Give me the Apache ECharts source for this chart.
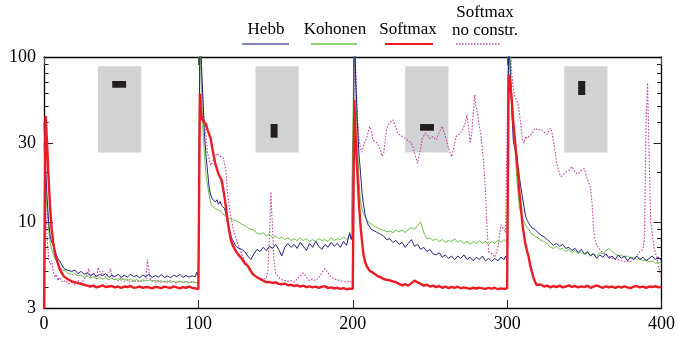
<!DOCTYPE html>
<html>
<head>
<meta charset="utf-8">
<script src="https://cdn.jsdelivr.net/npm/echarts@6/dist/echarts.min.js"></script>
<style>html,body{margin:0;padding:0;background:#fff}#c{width:678px;height:339px}</style>
</head>
<body>
<div id="c"></div>
<script>
// x-axis ticks and y-axis labels
const xTicks = [0, 100, 200, 300, 400];
const yLabels = [3, 10, 30, 100];
const yMinor = [4, 5, 6, 7, 8, 9, 20, 40, 50, 60, 70, 80, 90];
const seriesNames = ['Hebb', 'Kohonen', 'Softmax', 'Softmax no constr.'];

// values as flat x,y lists
const hebb = [
0,40, 1,22, 2,14, 3,10, 4,8.2, 5,7.5, 6,7.2, 7,6.8, 8,6.3, 9,6.0, 10,5.8, 11,5.6, 12,5.5, 13,5.2, 14,5.3, 15,5.1, 16,5.2, 18,5.0, 20,5.1, 22,4.85, 24,5.0, 26,4.8, 28,4.9, 30,4.7, 32,4.85, 34,4.65, 36,4.8, 38,4.7, 40,4.85, 42,4.6, 44,4.75, 46,4.65, 48,4.8, 50,4.6, 52,4.75, 54,4.62, 56,4.8, 58,4.65, 60,4.72, 62,4.58, 64,4.75, 66,4.65, 68,4.8, 70,4.6, 72,4.72, 74,4.62, 76,4.78, 78,4.6, 80,4.7, 82,4.58, 84,4.75, 86,4.65, 88,4.8, 90,4.6, 92,4.72, 94,4.62, 96,4.7, 98,4.65, 99,4.95, 100,4.7,
101,150, 102,90, 103,55, 104,33, 105,25, 106,20, 107,16, 108,14.5, 109,13.8, 110,13.5, 111,13.2, 112,13.6, 113,12.8, 114,13.3, 115,12.6, 116,12.4, 117,12.0, 118,11.0, 119,9.8, 120,9.0, 121,8.3, 122,7.8, 123,7.5, 124,7.2, 125,7.0, 126,7.1, 128,6.8, 130,6.6, 132,6.2, 134,5.9, 136,6.4, 138,6.8, 140,6.6, 142,7.0, 144,6.7, 146,7.1, 148,6.9, 150,7.3, 152,6.8, 154,6.2, 156,7.0, 158,7.4, 160,7.0, 162,7.3, 164,6.9, 166,7.5, 168,7.1, 170,6.7, 172,7.4, 174,7.0, 176,7.6, 178,7.1, 180,6.8, 182,7.3, 184,7.0, 186,7.5, 188,7.1, 190,7.4, 192,7.0, 194,7.6, 196,7.2, 198,8.6, 199,7.8, 200,8.5,
201,150, 202,70, 203,40, 204,26, 205,20, 206,15, 207,12.7, 208,11.0, 209,10.2, 210,9.6, 211,9.3, 212,9.0, 214,8.8, 216,8.6, 218,8.4, 220,8.2, 222,7.8, 224,7.9, 226,7.5, 228,7.7, 230,7.3, 232,7.5, 234,7.0, 236,7.4, 238,7.8, 240,7.1, 242,7.3, 244,6.8, 246,7.0, 248,6.6, 250,6.8, 252,6.4, 254,6.3, 256,6.5, 258,6.1, 260,6.3, 262,6.0, 264,6.2, 266,5.9, 268,6.2, 270,6.0, 272,6.3, 274,5.9, 276,6.1, 278,5.8, 280,6.1, 282,5.9, 284,6.2, 286,5.8, 288,6.0, 290,5.75, 292,6.0, 294,5.8, 296,6.1, 298,5.9, 299,6.2, 300,5.9,
301,150, 302,80, 303,47, 304,31, 305,28, 306,26.5, 307,22, 308,18.5, 309,16, 310,14, 311,12.2, 312,10.8, 313,10.2, 314,9.8, 315,9.5, 316,9.2, 318,9.0, 320,8.6, 322,8.3, 324,8.1, 326,7.8, 328,7.5, 330,7.2, 332,7.4, 334,7.1, 336,7.3, 338,6.9, 340,7.0, 342,6.7, 344,6.9, 346,6.5, 348,6.8, 350,6.4, 352,6.6, 354,6.2, 356,6.4, 358,6.0, 360,6.3, 362,6.1, 364,6.4, 366,6.0, 368,6.2, 370,5.9, 372,6.3, 374,6.0, 376,6.2, 378,5.8, 380,6.1, 382,5.9, 384,6.2, 386,5.9, 388,6.1, 390,5.8, 392,6.0, 394,6.2, 396,5.9, 398,6.1, 400,5.8
];

const kohonen = [
0,30, 1,18, 2,12, 3,9, 4,7.5, 5,6.8, 6,6.4, 7,6.0, 8,5.8, 9,5.5, 10,5.3, 11,5.2, 12,5.1, 13,5.0, 14,5.05, 15,4.9, 16,4.95, 18,4.8, 20,4.85, 22,4.7, 24,4.75, 26,4.6, 28,4.7, 30,4.55, 32,4.65, 34,4.5, 36,4.6, 38,4.5, 40,4.58, 42,4.45, 44,4.55, 46,4.45, 48,4.52, 50,4.42, 52,4.5, 54,4.4, 56,4.48, 58,4.38, 60,4.46, 62,4.36, 64,4.45, 66,4.38, 68,4.44, 70,4.35, 72,4.42, 74,4.32, 76,4.4, 78,4.3, 80,4.38, 82,4.28, 84,4.36, 86,4.3, 88,4.38, 90,4.28, 92,4.35, 94,4.25, 96,4.32, 98,4.28, 100,4.3,
101,150, 102,60, 103,35, 104,25, 105,19, 106,16.5, 107,14.5, 108,13, 109,12.5, 110,12.2, 111,12.0, 112,11.9, 113,11.8, 114,11.7, 115,11.5, 116,11.2, 117,10.9, 118,10.7, 119,10.6, 120,10.5, 122,10.3, 124,10.2, 126,10.0, 128,9.7, 130,9.5, 132,9.2, 134,9.0, 136,8.9, 138,8.5, 140,8.4, 142,8.6, 144,8.2, 146,8.4, 148,8.0, 150,8.2, 152,7.9, 154,8.1, 156,7.8, 158,8.0, 160,7.7, 162,7.9, 164,7.7, 166,8.0, 168,7.7, 170,7.9, 172,7.6, 174,7.8, 176,7.6, 178,7.9, 180,7.7, 182,7.8, 184,7.6, 186,8.0, 188,7.7, 190,7.9, 192,7.8, 194,8.1, 196,7.8, 198,8.3, 199,8.0, 200,8.2,
201,150, 202,60, 203,30, 204,18, 205,13.3, 206,12, 207,11.2, 208,10.7, 209,10.3, 210,10.0, 212,9.7, 214,9.4, 216,9.2, 218,9.0, 220,8.9, 222,8.7, 224,8.8, 226,8.6, 228,8.9, 230,8.7, 232,8.9, 234,8.6, 236,9.0, 238,9.2, 240,9.0, 242,9.5, 244,10.0, 245,9.8, 246,8.6, 248,7.9, 250,8.0, 252,7.7, 254,7.9, 256,7.6, 258,7.8, 260,7.5, 262,7.7, 264,7.6, 266,7.9, 268,7.5, 270,7.7, 272,7.4, 274,7.6, 276,7.3, 278,7.6, 280,7.4, 282,7.7, 284,7.4, 286,7.6, 288,7.3, 290,7.6, 292,7.4, 294,7.7, 296,7.5, 298,7.8, 300,7.5,
301,150, 302,100, 303,60, 304,40, 305,28, 306,20, 307,15, 308,12.1, 309,11.2, 310,10.5, 311,10.0, 312,9.5, 314,9.0, 316,8.4, 318,8.2, 320,8.0, 322,7.7, 324,7.6, 326,7.4, 328,7.0, 330,6.9, 332,7.1, 334,6.8, 336,6.9, 338,6.6, 340,6.8, 342,6.5, 344,6.7, 346,6.4, 348,6.6, 350,6.3, 352,6.5, 354,6.3, 356,6.4, 358,6.2, 360,6.5, 362,6.4, 364,6.7, 366,6.9, 368,6.6, 370,6.4, 372,6.2, 374,6.3, 376,6.1, 378,6.2, 380,6.0, 382,6.1, 384,5.9, 386,6.0, 388,5.8, 390,5.9, 392,5.7, 394,5.8, 396,5.6, 398,5.7, 400,5.6
];

const softmax = [
0,2.5, 1,44, 2,30, 3,18, 4,12, 5,9, 6,7.5, 7,6.5, 8,6.0, 9,5.6, 10,5.2, 11,5.0, 12,4.8, 13,4.65, 14,4.55, 16,4.45, 18,4.35, 20,4.3, 22,4.25, 24,4.2, 26,4.15, 28,4.1, 30,4.05, 32,4.1, 34,4.0, 36,4.05, 38,4.12, 40,4.02, 42,4.05, 44,4.08, 46,4.0, 48,4.05, 50,3.98, 52,4.05, 54,4.02, 56,4.08, 58,3.98, 60,4.0, 62,4.05, 64,3.97, 66,4.02, 68,4.0, 70,3.95, 72,4.03, 74,4.0, 76,3.96, 78,4.04, 80,4.0, 82,3.97, 84,4.06, 86,4.0, 88,3.95, 90,4.02, 92,3.98, 94,4.05, 96,3.97, 98,3.95, 99,4.0, 100,3.9,
101,60, 102,43, 103,41, 104,40, 105,39, 106,36, 107,34, 108,32, 109,28, 110,25, 111,22.5, 112,21, 113,19.5, 114,19, 115,18, 116,16, 117,14, 118,12, 119,10, 120,8.8, 121,7.8, 122,7.3, 123,7.0, 124,6.7, 125,6.5, 126,6.3, 128,6.0, 130,5.6, 132,5.4, 134,5.0, 136,4.75, 138,4.6, 140,4.5, 142,4.4, 144,4.3, 146,4.32, 148,4.25, 150,4.3, 152,4.2, 154,4.18, 156,4.22, 158,4.12, 160,4.15, 162,4.08, 164,4.12, 166,4.05, 168,4.1, 170,4.02, 172,4.06, 174,4.0, 176,4.04, 178,3.98, 180,4.03, 182,4.07, 184,3.96, 186,4.0, 188,3.94, 190,3.98, 192,3.92, 194,3.96, 196,3.9, 198,3.93, 199,3.9, 200,3.92,
201,55, 202,30, 203,20, 204,13, 205,9.5, 206,7.6, 207,6.3, 208,5.7, 209,5.4, 210,5.2, 211,5.05, 212,4.95, 214,4.85, 216,4.7, 218,4.6, 220,4.5, 222,4.45, 224,4.42, 226,4.35, 228,4.3, 230,4.2, 232,4.12, 234,4.18, 236,4.1, 238,4.25, 240,4.4, 242,4.3, 244,4.2, 246,4.1, 248,4.15, 250,4.05, 252,4.1, 254,4.02, 256,4.08, 258,3.98, 260,4.05, 262,3.96, 264,4.03, 266,3.98, 268,4.04, 270,3.95, 272,4.0, 274,3.96, 276,3.92, 278,3.98, 280,3.94, 282,3.99, 284,3.95, 286,3.92, 288,3.97, 290,3.93, 292,3.98, 294,3.9, 296,3.95, 298,3.92, 299,3.97, 300,3.95,
301,78, 302,70, 303,55, 304,40, 305,32, 306,25, 307,20, 308,15, 309,12, 310,9.5, 311,8.2, 312,7.2, 313,6.6, 314,6.1, 315,5.4, 316,5.0, 317,4.6, 318,4.35, 319,4.15, 320,4.1, 322,4.15, 324,4.05, 326,4.1, 328,4.0, 330,4.08, 332,4.02, 334,4.1, 336,4.0, 338,4.05, 340,4.12, 342,4.03, 344,4.08, 346,4.0, 348,4.06, 350,4.02, 352,4.1, 354,3.98, 356,4.05, 358,4.12, 360,4.04, 362,3.98, 364,4.06, 366,4.0, 368,4.05, 370,3.97, 372,4.04, 374,3.99, 376,4.06, 378,4.0, 380,3.96, 382,4.04, 384,4.08, 386,4.0, 388,4.04, 390,3.98, 392,4.05, 394,4.02, 396,4.07, 398,4.0, 400,4.03
];

const softmaxNoConstr = [
0,30, 1,15, 2,8, 3,6.0, 4,5.5, 5,5.8, 6,5.0, 7,4.6, 8,4.8, 9,4.4, 10,4.6, 11,4.5, 12,4.3, 14,4.4, 16,4.2, 18,4.3, 20,4.15, 22,4.4, 24,4.25, 26,4.5, 28,4.8, 29,5.2, 30,4.6, 32,4.9, 34,4.5, 35,5.3, 36,5.4, 37,4.8, 38,5.0, 40,4.6, 42,4.9, 43,5.2, 44,4.7, 46,4.5, 48,4.4, 50,4.6, 52,4.35, 54,4.45, 56,4.3, 58,4.4, 60,4.3, 62,4.4, 64,4.35, 66,4.5, 67,5.9, 68,5.0, 69,4.45, 70,4.35, 72,4.3, 74,4.4, 76,4.3, 78,4.35, 80,4.3, 82,4.4, 84,4.3, 86,4.25, 88,4.35, 90,4.3, 92,4.35, 94,4.28, 96,4.35, 98,4.3, 100,4.25,
101,150, 102,80, 103,51, 104,40, 105,33, 106,26, 107,24, 108,22, 109,23, 110,24, 111,25, 112,26, 113,25.5, 114,25, 115,25.4, 116,24.5, 117,22.5, 118,20, 119,14.6, 120,12.5, 121,10.8, 122,9.6, 123,8.8, 124,8.2, 125,7.6, 126,7.2, 127,6.8, 128,6.4, 130,5.8, 132,5.5, 134,5.1, 136,4.8, 138,4.6, 140,4.5, 142,4.5, 144,4.55, 145,5.0, 146,8.0, 147,15.2, 148,9.0, 149,5.8, 150,4.9, 152,4.6, 154,4.45, 156,4.4, 158,4.35, 160,4.4, 162,4.3, 164,4.5, 166,4.7, 168,4.9, 170,4.6, 172,4.4, 174,4.5, 176,4.4, 178,4.6, 180,4.9, 182,5.2, 183,5.25, 184,4.9, 186,4.6, 188,4.5, 190,4.45, 192,4.4, 194,4.35, 196,4.3, 198,4.35, 200,4.3,
201,150, 202,80, 203,45, 204,32, 205,28, 206,26.5, 207,29, 208,31, 209,32, 210,35, 211,37.8, 212,36, 213,31.4, 214,32, 216,30, 218,27, 219,25, 220,26, 222,37, 223,38.7, 224,40, 226,41.5, 228,37, 229,34.4, 230,35, 232,33, 234,32, 236,31, 238,30, 239,28.6, 240,26, 242,22.7, 243,23, 244,28, 245,32, 247,34.4, 249,33, 250,32, 252,33, 254,31.4, 256,35, 258,38, 259,35, 260,33, 262,28, 264,24.8, 265,27, 267,33, 269,34, 271,35.7, 273,40, 274,44.5, 275,38, 276,30, 277,34, 278,45, 279,58.8, 280,50, 281,44.5, 282,38, 283,34, 284,27, 285,22, 286,15, 287,9, 288,6.6, 290,6.4, 292,6.1, 294,7.0, 296,9.6, 297,9.8, 298,9.0, 299,8.6, 300,8.4,
301,150, 302,120, 303,80, 304,64, 305,58, 306,55, 307,52, 308,45, 309,38, 310,31, 311,30, 312,33, 313,32, 314,33, 316,34, 318,37, 320,36, 322,36.5, 324,35, 326,34, 327,33.7, 328,37, 329,35, 330,31, 331,27, 332,23, 333,21, 334,19.5, 335,18.8, 336,18.5, 338,20, 340,20.5, 342,21.6, 344,20, 346,19.5, 348,20.5, 350,21, 351,19.5, 352,18, 353,17.2, 354,16, 355,13, 356,9, 357,7.8, 358,7.2, 360,6.8, 362,6.5, 364,6.3, 366,6.2, 368,6.0, 370,5.95, 372,5.9, 374,5.8, 376,5.75, 378,5.8, 380,5.75, 382,5.9, 384,6.2, 386,6.6, 388,6.8, 389,8, 390,40, 391,69.5, 392,25, 393,10, 394,8.5, 395,7.2, 396,6.5, 397,6.1, 398,5.4, 399,4.9, 400,4.55
];

// inset pictures (data coordinates: x0, x1, yLow, yHigh)
const insetBoxes = [[35, 63, 26.3, 88], [137, 165, 26.3, 88], [234, 262, 26.3, 88], [337, 365, 26.3, 88]];
const insetBars = [[44.2, 53.2, 65.1, 71.5], [146.8, 151.3, 32.4, 39.2], [243.6, 252.6, 35.7, 39.2], [346, 350.6, 58.8, 71.5]];

function pairs(flat) {
  const out = [];
  for (let i = 0; i < flat.length; i += 2) out.push([flat[i], flat[i + 1]]);
  return out;
}

const colors = ['#23237f', '#6cc04a', '#ed1c24', '#c444aa'];
const FONT = '"Liberation Serif", "DejaVu Serif", serif';

function yAxisDef(pos, ticks, len, showLine, showLabel) {
  return {
    type: 'log', logBase: 10, min: 3, max: 100, position: pos,
    axisLine: { show: showLine, lineStyle: { color: '#000', width: 1.3 } },
    axisTick: { show: true, inside: true, length: len, customValues: ticks, lineStyle: { color: '#222', width: 1 } },
    axisLabel: { show: showLabel, customValues: yLabels, fontFamily: FONT, fontSize: 18, color: '#000', margin: 8 },
    minorTick: { show: false }, splitLine: { show: false }
  };
}

const chart = echarts.init(document.getElementById('c'), null, { renderer: 'canvas' });

const legendGraphics = [];
const legendItems = [
  { name: 'Hebb', cx: 266, x0: 242, x1: 289 },
  { name: 'Kohonen', cx: 335, x0: 311, x1: 357 },
  { name: 'Softmax', cx: 408, x0: 385, x1: 433 },
  { name: 'Softmax\nno constr.', cx: 485, x0: 456, x1: 500 }
];
legendItems.forEach((it, i) => {
  legendGraphics.push({
    type: 'text', x: it.cx, y: i === 3 ? 21.5 : 30,
    style: { text: it.name, font: '17px ' + FONT, fill: '#000', align: 'center', verticalAlign: 'middle', textAlign: 'center', textVerticalAlign: 'middle', lineHeight: 18 }
  });
  legendGraphics.push({
    type: 'line', shape: { x1: it.x0, y1: 44, x2: it.x1, y2: 44 },
    style: { stroke: i === 0 ? '#5a5ca8' : colors[i], lineWidth: i === 2 ? 2 : 1.3, lineDash: i === 3 ? [1.5, 1.5] : null }
  });
});

const lineSeries = [
  { data: softmaxNoConstr, idx: 3, width: 1.1, dash: [1.6, 1.6] },
  { data: kohonen, idx: 1, width: 1, dash: 'solid' },
  { data: hebb, idx: 0, width: 1, dash: 'solid' },
  { data: softmax, idx: 2, width: 2.4, dash: 'solid' }
].map(s => ({
  name: seriesNames[s.idx], type: 'line', xAxisIndex: 0, yAxisIndex: 0,
  data: pairs(s.data), showSymbol: false, symbol: 'none', clip: true, z: 3,
  lineStyle: { color: colors[s.idx], width: s.width, type: s.dash }, animation: false
}));

const option = {
  animation: false,
  grid: { left: 44, right: 10, top: 57, bottom: 31 },
  xAxis: [
    {
      type: 'value', min: 0, max: 400, interval: 100, position: 'bottom',
      axisLine: { lineStyle: { color: '#000', width: 1.3 } },
      axisTick: { inside: true, length: 8, lineStyle: { color: '#222' } },
      axisLabel: { fontFamily: FONT, fontSize: 18, color: '#000', margin: 7, customValues: xTicks },
      splitLine: { show: false }
    },
    {
      type: 'value', min: 0, max: 400, interval: 100, position: 'top',
      axisLine: { lineStyle: { color: '#000', width: 1.3 } },
      axisTick: { inside: true, length: 8, lineStyle: { color: '#555' } },
      axisLabel: { show: false }, splitLine: { show: false }
    }
  ],
  yAxis: [
    yAxisDef('left', [10, 30], 9, true, true),
    yAxisDef('left', yMinor, 4.5, false, false),
    yAxisDef('right', [10, 30], 8, true, false),
    yAxisDef('right', yMinor, 4.5, false, false)
  ],
  graphic: legendGraphics,
  series: [
    {
      type: 'line', data: [], xAxisIndex: 0, yAxisIndex: 0, z: 1, silent: true,
      markArea: { silent: true, itemStyle: { color: '#d1d2d4' },
        data: insetBoxes.map(b => [{ xAxis: b[0], yAxis: b[2] }, { xAxis: b[1], yAxis: b[3] }]) }
    },
    {
      type: 'line', data: [], xAxisIndex: 0, yAxisIndex: 0, z: 2, silent: true,
      markArea: { silent: true, itemStyle: { color: '#231f20' },
        data: insetBars.map(b => [{ xAxis: b[0], yAxis: b[2] }, { xAxis: b[1], yAxis: b[3] }]) }
    }
  ].concat(lineSeries)
};
chart.setOption(option);
</script>
</body>
</html>
